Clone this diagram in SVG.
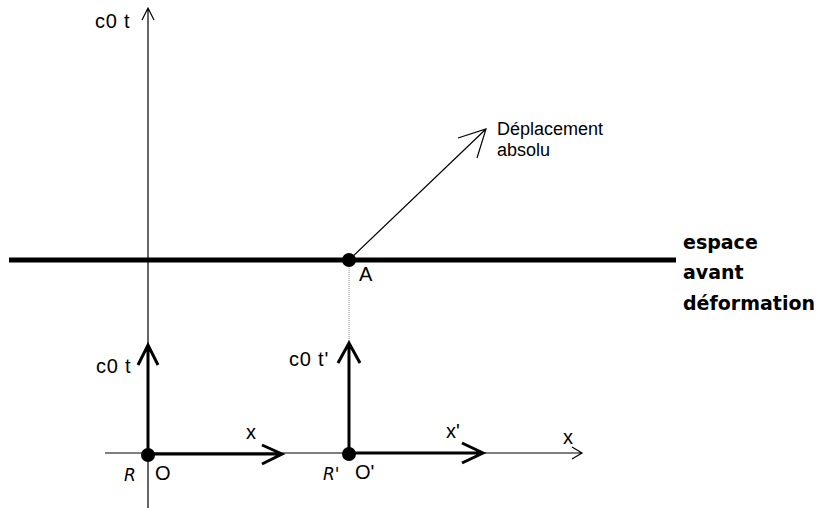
<svg xmlns="http://www.w3.org/2000/svg" width="820" height="508" viewBox="0 0 820 508">
<style>
.t{font-family:"Liberation Sans",Arial,sans-serif;font-size:20px;fill:#000}
.s{font-family:"Liberation Sans",Arial,sans-serif;font-size:18px;fill:#000}
.b{font-family:"DejaVu Sans",sans-serif;font-weight:bold;font-size:19px;fill:#000}
.r{font-family:"DejaVu Sans",sans-serif;font-style:italic;font-size:17px;fill:#000}
.thin{stroke:#000;stroke-width:1.2;fill:none}
.thick{stroke:#000;stroke-width:3;fill:none}
</style>
<rect width="820" height="508" fill="#fff"/>
<g id="connectors">
<path class="thin" d="M148 508 V8 M142 20 L148 8 L154 20"/>
<path class="thin" d="M105 453 H582 M572 447 L582 453 L572 459"/>
<line x1="9" y1="260" x2="676" y2="260" stroke="#000" stroke-width="5"/>
<line x1="349" y1="262" x2="349" y2="345" stroke="#888" stroke-width="1" stroke-dasharray="1,1"/>
<path class="thin" d="M349 260 L486 129 M458 138 L486 129 L477 158"/>
<path class="thick" d="M148 455 V345 M138 365 L148 345 L158 365"/>
<path class="thick" d="M148 454 H282 M262 445 L282 454 L262 464"/>
<path class="thick" d="M349 455 V343 M338 363 L349 343 L360 363"/>
<path class="thick" d="M349 453 H483 M462 443 L483 453 L462 463"/>
</g>
<g id="axis-t"><text class="t" x="95" y="28" letter-spacing="0.8">c0 t</text></g>
<g id="A"><circle cx="349" cy="260" r="7"/><text class="t" x="359" y="281">A</text></g>
<g id="deplacement"><text class="s" x="497" y="135">Déplacement</text><text class="s" x="497" y="156">absolu</text></g>
<g id="espace"><text class="b" x="683" y="249">espace</text><text class="b" x="683" y="279">avant</text><text class="b" x="683" y="310">déformation</text></g>
<g id="O"><circle cx="148" cy="455" r="7"/><text class="t" x="155" y="480">O</text><text class="r" x="124" y="481">R</text><text class="t" x="96" y="373" letter-spacing="0.8">c0 t</text><text class="t" x="246" y="439">x</text></g>
<g id="Oprime"><circle cx="349" cy="454" r="7"/><text class="t" x="355" y="479">O'</text><text class="r" x="323" y="480">R'</text><text class="t" x="289" y="366" letter-spacing="0.8">c0 t'</text><text class="t" x="446" y="438">x'</text></g>
<g id="x-label"><text class="t" x="563" y="444">x</text></g>
</svg>
